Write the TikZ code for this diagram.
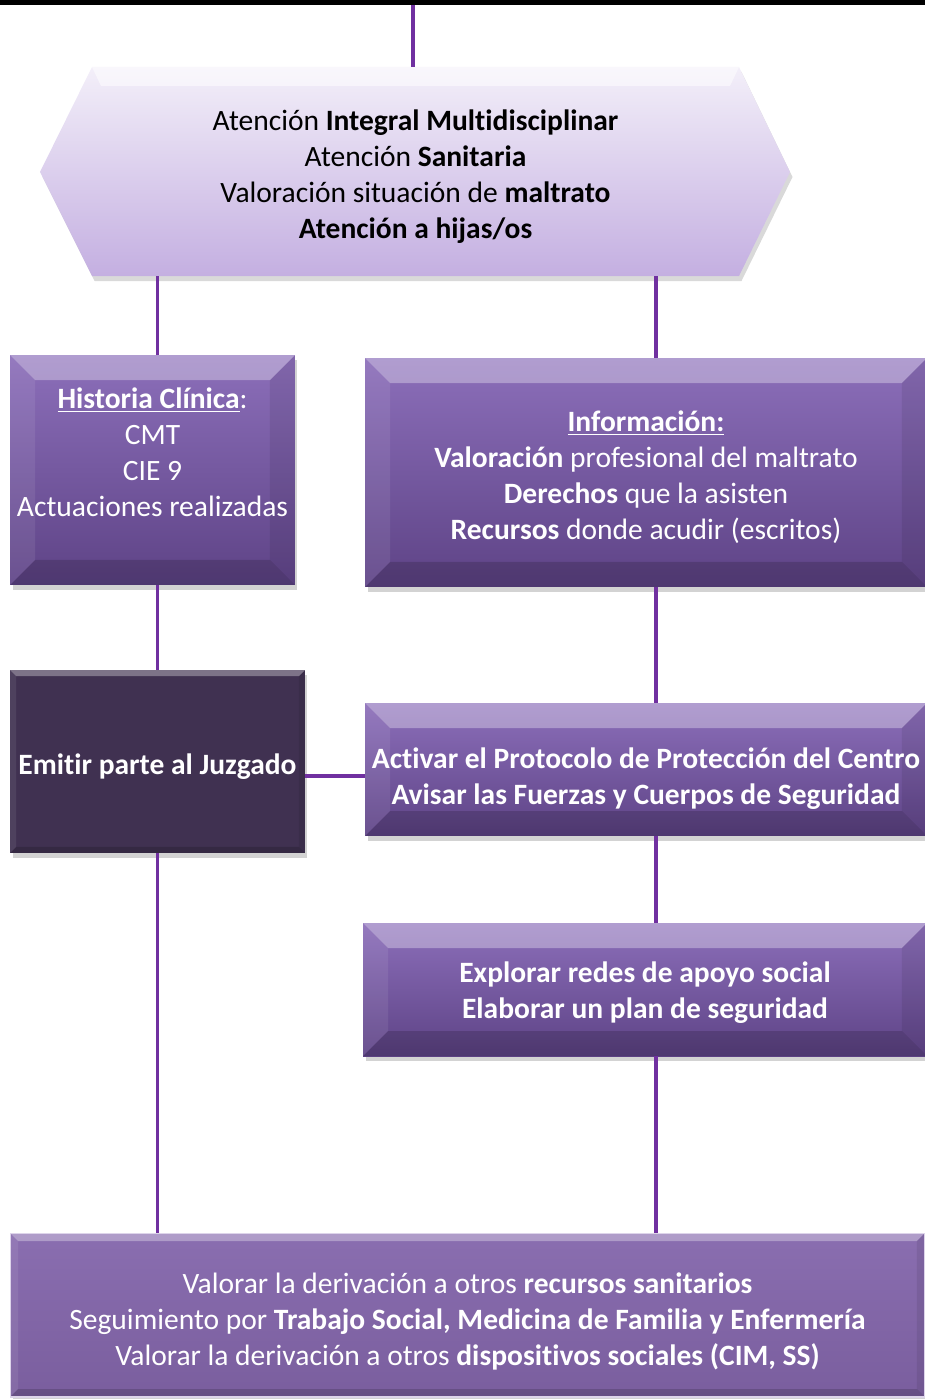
\documentclass[tikz,border=0pt]{standalone}
\usepackage{fontspec}
\setmainfont{Carlito}[Ligatures=NoCommon]
\usetikzlibrary{shadows}

\definecolor{linea}{HTML}{7030A0}
\definecolor{hexA}{HTML}{F3EFF9}
\definecolor{hexB}{HTML}{C4AFE1}
\definecolor{morA}{HTML}{8C6FBA}
\definecolor{morB}{HTML}{5E4386}
\definecolor{oscuro}{HTML}{403151}
\definecolor{finA}{HTML}{8A6EB0}
\definecolor{finB}{HTML}{7A5E9E}

% pushes the first line (and the whole block) down
\newcommand\bajar[1]{\rule{0pt}{\dimexpr 12.5pt+2\dimexpr#1\relax\relax}}

\tikzset{
  bevel/.style={path picture={
    \fill[white,opacity=.32] (path picture bounding box.north west) -- (path picture bounding box.north east)
      -- ([shift={(-#1,-#1)}]path picture bounding box.north east) -- ([shift={(#1,-#1)}]path picture bounding box.north west) -- cycle;
    \fill[white,opacity=.08] (path picture bounding box.north west) -- ([shift={(#1,-#1)}]path picture bounding box.north west)
      -- ([shift={(#1,#1)}]path picture bounding box.south west) -- (path picture bounding box.south west) -- cycle;
    \fill[black,opacity=.08] (path picture bounding box.north east) -- ([shift={(-#1,-#1)}]path picture bounding box.north east)
      -- ([shift={(-#1,#1)}]path picture bounding box.south east) -- (path picture bounding box.south east) -- cycle;
    \fill[black,opacity=.16] (path picture bounding box.south west) -- (path picture bounding box.south east)
      -- ([shift={(-#1,#1)}]path picture bounding box.south east) -- ([shift={(#1,#1)}]path picture bounding box.south west) -- cycle;
  }},
  caja/.style={rectangle, text=white, align=center, inner sep=0pt,
    font=\fontsize{16.8}{20.5}\selectfont,
    drop shadow={opacity=.35,shadow xshift=.5mm,shadow yshift=-1mm}},
  morada/.style={caja, top color=morA, bottom color=morB, bevel=0.5cm},
  conector/.style={draw=linea, line width=2pt},
}

\begin{document}
\begin{tikzpicture}[x=0.02cm,y=-0.02cm]
\useasboundingbox (0,0) rectangle (925,1399);

% top bar
\fill[black] (0,0) rectangle (925,5);

% hexagon
\shade[top color=hexA, bottom color=hexB, drop shadow={opacity=.3,shadow xshift=.5mm,shadow yshift=-1mm}]
  (92,67) -- (739,67) -- (790,172) -- (739,276) -- (92,276) -- (40,172) -- cycle;
\fill[white,opacity=.5] (92,67) -- (739,67) -- (730,86) -- (101,86) -- cycle;
\node[align=center, inner sep=0pt, minimum width=12.94cm, minimum height=4.18cm,
  font=\fontsize{16.8}{20.5}\selectfont] (hexa) at (415.5,171.5)
  {\bajar{2.3pt}Atención \textbf{Integral Multidisciplinar}\\
   Atención \textbf{Sanitaria}\\
   Valoración situación de \textbf{maltrato}\\
   \textbf{Atención a hijas/os}};

% boxes
\node[morada, minimum width=5.7cm, minimum height=4.6cm] (hist) at (152.5,470)
  {\textbf{\underline{Historia Clínica}}:\\ CMT\\ CIE 9\\ Actuaciones realizadas\\ ~};
\node[morada, minimum width=11.24cm, minimum height=4.58cm] (info) at (646,472.5)
  {\bajar{2.3pt}\textbf{\underline{Información:}}\\
   \textbf{Valoración} profesional del maltrato\\
   \textbf{Derechos} que la asisten\\
   \textbf{Recursos} donde acudir (escritos)};
\node[caja, fill=oscuro, bevel=0.12cm, minimum width=5.9cm, minimum height=3.66cm] (emit) at (157.5,761.5)
  {\bajar{2.8pt}\textbf{Emitir parte al Juzgado}};
\node[morada, minimum width=11.24cm, minimum height=2.66cm] (act) at (646,769.5)
  {\bajar{5pt}\textbf{Activar el Protocolo de Protección del Centro}\\
   \textbf{Avisar las Fuerzas y Cuerpos de Seguridad}};
\node[morada, minimum width=11.28cm, minimum height=2.66cm] (expl) at (645,989.5)
  {\bajar{1.7pt}\textbf{Explorar redes de apoyo social}\\
   \textbf{Elaborar un plan de seguridad}};
\node[caja, top color=finA, bottom color=finB, bevel=0.16cm, draw=white!70!morA, line width=0.6pt,
  minimum width=18.3cm, minimum height=3.28cm] (fin) at (467.5,1315)
  {\bajar{3.4pt}Valorar la derivación a otros \textbf{recursos sanitarios}\\
   Seguimiento por \textbf{Trabajo Social, Medicina de Familia y Enfermería}\\
   Valorar la derivación a otros \textbf{dispositivos sociales (CIM, SS)}};

% connectors
\coordinate (entrada) at (413,5);
\coordinate (rline) at (656,0);
\draw[conector] (entrada) -- (entrada |- hexa.north);
\draw[conector] (emit.north |- hexa.south) -- (emit.north |- hist.north);
\draw[conector] (emit.north |- hist.south) -- (emit.north);
\draw[conector] (emit.south) -- (emit.south |- fin.north);
\draw[conector] (rline |- hexa.south) -- (rline |- info.north);
\draw[conector] (rline |- info.south) -- (rline |- act.north);
\draw[conector] (rline |- act.south) -- (rline |- expl.north);
\draw[conector] (rline |- expl.south) -- (rline |- fin.north);
\draw[conector] (emit.east |- 0,776) -- (act.west |- 0,776);
\end{tikzpicture}
\end{document}
